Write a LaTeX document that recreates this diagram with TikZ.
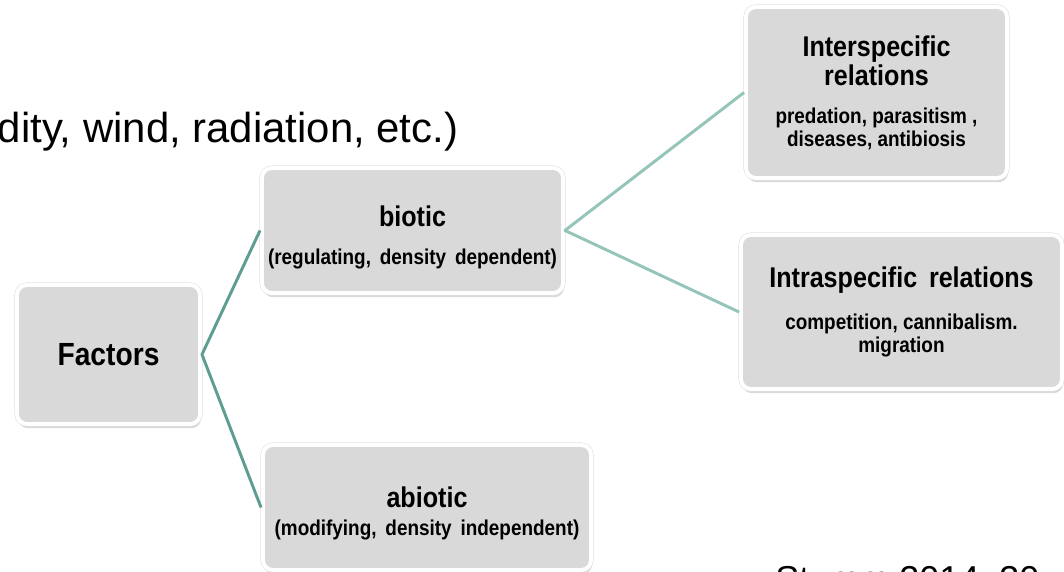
\documentclass[tikz,border=0pt]{standalone}
\usepackage{fontspec}
\setmainfont{Liberation Sans}
\newfontfamily\stretta[FakeStretch=0.88]{Liberation Sans}
\usetikzlibrary{shadows}
\definecolor{grigiobox}{HTML}{D9D9D9}
\definecolor{verdescuro}{HTML}{5E9E92}
\definecolor{verdechiaro}{HTML}{94C4BA}

\begin{document}
\begin{tikzpicture}[
	scatola/.style={rectangle, rounded corners=7pt, fill=grigiobox, draw=white, line width=2.8pt,
		inner sep=0pt, align=center, font=\stretta\bfseries\fontsize{15.3}{16}\selectfont,
		drop shadow={shadow xshift=0.8pt, shadow yshift=-3pt, opacity=0.3},
		preaction={draw=black!12, line width=3.6pt}},
	ramo/.style={line width=2.1pt, line join=round}
	]
	
	% Riquadro della pagina
	\useasboundingbox (0,0) rectangle (26.6,14.3);
	
	% Testi fuori dai riquadri
	\node[anchor=base west, inner sep=0pt, font=\fontsize{29.8}{34}\selectfont] (elenco) at (-0.06, 10.74) {dity, wind, radiation, etc.)};
	\node[anchor=base west, inner sep=0pt, font=\fontsize{25.6}{30}\selectfont] (fonte) at (19.38, -0.5) {Stumm 2014, 30};
	
	% Riquadri
	\node[scatola, minimum width=4.575cm, minimum height=3.475cm] (factors) at (2.7125, 5.4375)
		{\fontsize{22.8}{26}\selectfont Factors};
	\node[scatola, minimum width=7.525cm, minimum height=3.125cm] (biotic) at (10.3125, 8.5375)
		{{\fontsize{20.3}{22}\selectfont\rule{0pt}{24pt}biotic}\\[11pt] (regulating,\, density\, dependent)};
	\node[scatola, minimum width=8.2cm, minimum height=3.125cm] (abiotic) at (10.675, 1.6125)
		{{\fontsize{20.3}{22}\selectfont\rule{0pt}{23pt}abiotic}\\[4pt] (modifying,\, density\, independent)};
	\node[scatola, minimum width=6.525cm, minimum height=4.275cm] (inter) at (21.9125, 11.9875)
		{{\fontsize{20.3}{22}\selectfont Interspecific}\\[1pt]{\fontsize{20.3}{22}\selectfont relations}\\[11pt]
		predation, parasitism ,\\ diseases, antibiosis};
	\node[scatola, minimum width=8.025cm, minimum height=3.85cm] (intra) at (22.5375, 6.5)
		{{\fontsize{20.3}{22}\selectfont Intraspecific\, relations}\\[14pt]
		competition, cannibalism.\\ migration};
	
	% Collegamenti
	\draw[ramo, verdescuro] (biotic.west) -- (factors.east) -- (abiotic.west);
	\draw[ramo, verdechiaro] (inter.west) -- (biotic.east) -- (intra.west);
	
\end{tikzpicture}
\end{document}
